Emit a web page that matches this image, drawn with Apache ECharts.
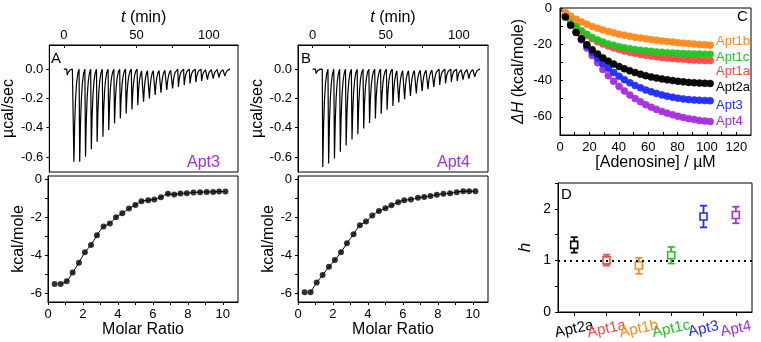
<!DOCTYPE html>
<html>
<head>
<meta charset="utf-8">
<script src="https://cdn.jsdelivr.net/npm/echarts@6/dist/echarts.min.js"></script>
<style>
  html, body { margin: 0; padding: 0; background: #fff; }
  #chart { width: 761px; height: 342px; }
</style>
</head>
<body>
<div id="chart"></div>
<script>
// ---- panels A/B, raw ITC traces ----
const injectionTimes = [2, 6.6, 10.6, 14.6, 18.6, 22.6, 26.6, 30.6, 34.6, 38.6, 42.6, 46.6, 50.6, 54.6,
  58.6, 62.6, 66.6, 70.6, 74.6, 78.6, 82.6, 86.6, 90.6, 94.6, 98.6, 102.6, 106.6, 110.6];
const apt3Peaks = [-0.04, -0.633, -0.633, -0.599, -0.548, -0.496, -0.462, -0.416, -0.371, -0.337, -0.303,
  -0.275, -0.246, -0.223, -0.2, -0.177, -0.161, -0.143, -0.132, -0.121, -0.109, -0.098, -0.089, -0.08,
  -0.071, -0.064, -0.057, -0.048];
const apt4Peaks = [-0.03, -0.668, -0.645, -0.61, -0.564, -0.522, -0.48, -0.445, -0.405, -0.368, -0.338,
  -0.305, -0.278, -0.252, -0.228, -0.205, -0.184, -0.166, -0.15, -0.137, -0.121, -0.109, -0.098, -0.087,
  -0.08, -0.071, -0.064, -0.052];
// shape of one peak: [minutes after injection, fraction of the peak depth]
const peakProfile = [[0, 0], [0.35, 1], [0.9, 0.58], [1.5, 0.32], [2.2, 0.15], [3.0, 0.05], [3.9, 0]];

// ---- panels A/B, integrated heats ----
const molarRatio = [0.38, 0.72, 1.07, 1.41, 1.77, 2.11, 2.46, 2.8, 3.18, 3.54, 3.89, 4.25, 4.63, 5.0,
  5.35, 5.73, 6.08, 6.46, 6.86, 7.22, 7.58, 7.94, 8.32, 8.7, 9.08, 9.45, 9.79, 10.15];
const apt3Heat = [-5.51, -5.51, -5.37, -4.91, -4.39, -3.84, -3.46, -2.95, -2.49, -2.33, -2.0, -1.79,
  -1.54, -1.35, -1.16, -1.1, -1.07, -0.95, -0.77, -0.81, -0.75, -0.74, -0.7, -0.68, -0.67, -0.67, -0.65, -0.65];
const apt4Heat = [-5.95, -5.95, -5.44, -5.04, -4.61, -4.25, -3.84, -3.37, -2.89, -2.42, -2.23, -1.91,
  -1.67, -1.53, -1.37, -1.21, -1.1, -1.07, -0.98, -0.93, -0.88, -0.82, -0.77, -0.74, -0.68, -0.63, -0.63, -0.63];

// ---- panel C ----
const adenosine = [3.7, 7.3, 11.0, 14.6, 18.3, 21.9, 25.6, 29.2, 32.9, 36.5, 40.2, 43.8, 47.5, 51.1,
  54.8, 58.4, 62.1, 65.7, 69.4, 73.0, 76.7, 80.3, 84.0, 87.6, 91.3, 94.9, 98.6, 102.2];
const dhApt1b = [-2.5, -4.5, -6.2, -7.7, -9.0, -10.2, -11.2, -12.1, -13.0, -13.7, -14.4, -15.0, -15.6,
  -16.1, -16.6, -17.0, -17.4, -17.8, -18.2, -18.5, -18.8, -19.1, -19.4, -19.6, -19.9, -20.1, -20.3, -20.5];
const dhApt1c = [-3.5, -7.0, -10.0, -12.5, -14.5, -16.2, -17.6, -18.8, -19.8, -20.6, -21.3, -21.9, -22.4,
  -22.9, -23.3, -23.6, -23.9, -24.2, -24.4, -24.6, -24.8, -25.0, -25.1, -25.2, -25.3, -25.4, -25.5, -25.5];
const dhApt1a = [-3.5, -7.2, -10.3, -13.0, -15.2, -17.0, -18.6, -19.9, -21.0, -22.0, -22.9, -23.7, -24.4,
  -25.0, -25.6, -26.1, -26.5, -26.9, -27.3, -27.6, -27.9, -28.1, -28.3, -28.5, -28.7, -28.8, -28.9, -29.0];
const dhApt2a = [-5.0, -9.5, -13.5, -17.0, -20.2, -23.0, -25.4, -27.5, -29.3, -30.9, -32.3, -33.5, -34.6,
  -35.6, -36.5, -37.3, -38.0, -38.6, -39.1, -39.6, -40.0, -40.4, -40.7, -41.0, -41.2, -41.4, -41.5, -41.6];
const dhApt3 = [-4.5, -9.0, -13.3, -17.3, -21.0, -24.5, -27.7, -30.6, -33.2, -35.5, -37.6, -39.5, -41.2,
  -42.7, -44.0, -45.2, -46.2, -47.1, -47.9, -48.6, -49.2, -49.7, -50.1, -50.5, -50.7, -50.9, -51.0, -51.1];
const dhApt4 = [-4.0, -8.5, -13.0, -17.5, -22.0, -26.2, -30.2, -33.9, -37.3, -40.4, -43.2, -45.7, -47.9,
  -49.9, -51.7, -53.3, -54.7, -55.9, -57.0, -58.0, -58.9, -59.7, -60.4, -61.0, -61.5, -62.0, -62.3, -62.6];

// ---- panel D ----
const hNames = ['Apt2a', 'Apt1a', 'Apt1b', 'Apt1c', 'Apt3', 'Apt4'];
const hValues = [1.3, 1.0, 0.9, 1.1, 1.85, 1.88];
const hUpper = [1.45, 1.11, 1.05, 1.26, 2.06, 2.04];
const hLower = [1.15, 0.9, 0.74, 0.94, 1.64, 1.72];

const colors = {
  Apt1b: '#ff8a1c', Apt1c: '#22c422', Apt1a: '#ff4848', Apt2a: '#000000', Apt3: '#1f2dff', Apt4: '#a52ee0'
};
const font = '"Liberation Sans", Arial, sans-serif';
const black = { color: '#000', width: 1 };

function buildTrace(peaks) {
  const pts = [[0, 0]];
  injectionTimes.forEach(function (t, i) {
    peakProfile.forEach(function (p) { pts.push([t + p[0], peaks[i] * p[1]]); });
  });
  pts.push([114, 0]);
  return pts;
}

function zip(xs, ys) {
  return xs.map(function (x, i) { return [x, ys[i]]; });
}

function valueAxis(extra) {
  return Object.assign({
    type: 'value',
    axisLine: { show: true, onZero: false, lineStyle: black },
    axisTick: { show: true, length: 3, lineStyle: black },
    axisLabel: { color: '#000', fontFamily: font, fontSize: 13 },
    splitLine: { show: false },
    nameLocation: 'middle',
    nameTextStyle: { color: '#000', fontFamily: font, fontSize: 16 }
  }, extra);
}

function tickAt(values, inside) {
  return { show: true, inside: !!inside, length: 3, lineStyle: black, customValues: values };
}

const chart = echarts.init(document.getElementById('chart'));

const gridBox = { show: true, borderColor: '#000', borderWidth: 1, containLabel: false };
const grids = [
  Object.assign({ left: 48, top: 45, width: 190, height: 127 }, gridBox),
  Object.assign({ left: 48, top: 176, width: 190, height: 126 }, gridBox),
  Object.assign({ left: 298, top: 45, width: 190, height: 127 }, gridBox),
  Object.assign({ left: 298, top: 176, width: 190, height: 126 }, gridBox),
  Object.assign({ left: 560, top: 8, width: 191, height: 127 }, gridBox),
  Object.assign({ left: 558, top: 183, width: 194, height: 129 }, gridBox)
];

function timeAxis(g) {
  return valueAxis({
    gridIndex: g, position: 'top', min: -10, max: 120,
    axisTick: tickAt([0, 25, 50, 75, 100], true),
    axisLabel: { color: '#000', fontFamily: font, fontSize: 13, margin: 3, customValues: [0, 50, 100] },
    name: '{i|t} (min)', nameGap: 19,
    nameTextStyle: { color: '#000', fontFamily: font, fontSize: 16, rich: { i: { fontStyle: 'italic', fontSize: 16, fontFamily: font } } }
  });
}
function ratioAxis(g) {
  return valueAxis({
    gridIndex: g, min: 0, max: 10.87,
    axisTick: tickAt([0, 1, 2, 3, 4, 5, 6, 7, 8, 9, 10]),
    axisLabel: { color: '#000', fontFamily: font, fontSize: 13, margin: 6, customValues: [0, 2, 4, 6, 8, 10] },
    name: 'Molar Ratio', nameGap: 20
  });
}
function powerAxis(g) {
  return valueAxis({
    gridIndex: g, min: -0.703, max: 0.165,
    axisTick: tickAt([0, -0.2, -0.4, -0.6]),
    axisLabel: {
      color: '#000', fontFamily: font, fontSize: 13, margin: 6, customValues: [0, -0.2, -0.4, -0.6],
      formatter: function (v) { return v.toFixed(1); }
    },
    name: 'µcal/sec', nameGap: 29
  });
}
function heatAxis(g) {
  return valueAxis({
    gridIndex: g, min: -6.46, max: 0.17,
    axisTick: tickAt([0, -1, -2, -3, -4, -5, -6]),
    axisLabel: { color: '#000', fontFamily: font, fontSize: 13, margin: 6, customValues: [0, -2, -4, -6] },
    name: 'kcal/mole', nameGap: 20
  });
}

const xAxes = [
  timeAxis(0), ratioAxis(1), timeAxis(2), ratioAxis(3),
  valueAxis({
    gridIndex: 4, min: 0, max: 130,
    axisTick: tickAt([0, 10, 20, 30, 40, 50, 60, 70, 80, 90, 100, 110, 120], true),
    axisLabel: { color: '#000', fontFamily: font, fontSize: 13, margin: 6, customValues: [0, 20, 40, 60, 80, 100, 120] },
    name: '[Adenosine] / µM', nameGap: 20
  }),
  {
    gridIndex: 5, type: 'category', data: hNames, boundaryGap: true,
    axisLine: { show: true, lineStyle: black },
    axisTick: { show: true, alignWithLabel: true, length: 4, lineStyle: black },
    axisLabel: {
      fontFamily: font, fontSize: 15, rotate: 12, margin: 17, interval: 0, align: 'center',
      color: function (v) { return colors[v]; }
    },
    splitLine: { show: false }
  }
];

const yAxes = [
  powerAxis(0), heatAxis(1), powerAxis(2), heatAxis(3),
  valueAxis({
    gridIndex: 4, min: -70, max: 0,
    axisTick: tickAt([0, -10, -20, -30, -40, -50, -60, -70], true),
    axisLabel: { color: '#000', fontFamily: font, fontSize: 13, margin: 8, customValues: [0, -20, -40, -60] },
    name: '{i|ΔH} (kcal/mole)', nameGap: 33,
    nameTextStyle: { color: '#000', fontFamily: font, fontSize: 16, rich: { i: { fontStyle: 'italic', fontSize: 16, fontFamily: font } } }
  }),
  valueAxis({
    gridIndex: 5, min: 0, max: 2.5,
    axisTick: tickAt([0, 0.5, 1, 1.5, 2, 2.5]),
    axisLabel: { color: '#000', fontFamily: font, fontSize: 14, margin: 7, customValues: [0, 1, 2] },
    name: 'h', nameGap: 24,
    nameTextStyle: { color: '#000', fontFamily: font, fontSize: 17, fontStyle: 'italic' }
  })
];

function traceSeries(g, peaks) {
  return {
    type: 'line', xAxisIndex: g, yAxisIndex: g, data: buildTrace(peaks),
    showSymbol: false, silent: true, lineStyle: { color: '#000', width: 1.2 }
  };
}
function heatSeries(g, heat) {
  return [
    {
      type: 'line', xAxisIndex: g, yAxisIndex: g, data: zip(molarRatio, heat).slice(1),
      showSymbol: false, smooth: 0.3, silent: true, lineStyle: { color: '#000', width: 1 }
    },
    {
      type: 'scatter', xAxisIndex: g, yAxisIndex: g, data: zip(molarRatio, heat),
      symbolSize: 6, itemStyle: { color: '#000' }
    }
  ];
}
function dhSeries(name, values) {
  const data = [{ value: [0, 0], symbolSize: 0 }].concat(zip(adenosine, values));
  return {
    type: 'line', name: name, xAxisIndex: 4, yAxisIndex: 4, data: data,
    symbol: 'circle', symbolSize: 7, showAllSymbol: true,
    lineStyle: { color: colors[name], width: 1 },
    itemStyle: { color: colors[name], borderColor: colors[name], borderWidth: 0.6, opacity: 0.95 }
  };
}

const hData = hNames.map(function (n, i) { return [i, hValues[i], hUpper[i], hLower[i]]; });

const hillSeries = {
  type: 'custom', xAxisIndex: 5, yAxisIndex: 5, data: hData,
  renderItem: function (params, api) {
    const c = api.coord([api.value(0), api.value(1)]);
    const hi = api.coord([api.value(0), api.value(2)]);
    const lo = api.coord([api.value(0), api.value(3)]);
    const color = colors[hNames[params.dataIndex]];
    const st = { stroke: color, lineWidth: 1.8 };
    return {
      type: 'group',
      children: [
        { type: 'line', shape: { x1: c[0], y1: hi[1], x2: c[0], y2: lo[1] }, style: st },
        { type: 'line', shape: { x1: c[0] - 3.5, y1: hi[1], x2: c[0] + 3.5, y2: hi[1] }, style: st },
        { type: 'line', shape: { x1: c[0] - 3.5, y1: lo[1], x2: c[0] + 3.5, y2: lo[1] }, style: st },
        { type: 'rect', shape: { x: c[0] - 3.5, y: c[1] - 3.5, width: 7, height: 7 },
          style: { fill: '#fff', stroke: color, lineWidth: 1.6 } }
      ]
    };
  },
  markLine: {
    silent: true, symbol: 'none', label: { show: false },
    lineStyle: { color: '#000', width: 2, type: [2, 4] },
    data: [{ yAxis: 1 }]
  }
};

function label(text, left, top, size, color, extra) {
  return Object.assign({
    type: 'text', left: left, top: top,
    style: { text: text, fill: color || '#000', font: size + 'px ' + font }
  }, extra);
}

const graphics = [
  label('A', 51, 51, 15),
  label('B', 301, 51, 15),
  label('C', 737, 9, 15),
  label('D', 561, 187, 15),
  label('Apt3', 187, 155, 16, colors.Apt4),
  label('Apt4', 437, 155, 16, colors.Apt4),
  label('Apt1b', 716, 35, 13, colors.Apt1b),
  label('Apt1c', 716, 51, 13, colors.Apt1c),
  label('Apt1a', 716, 65, 13, colors.Apt1a),
  label('Apt2a', 716, 81, 13, colors.Apt2a),
  label('Apt3', 716, 99, 13, colors.Apt3),
  label('Apt4', 716, 115, 13, colors.Apt4)
];

chart.setOption({
  animation: false,
  textStyle: { fontFamily: font },
  grid: grids,
  xAxis: xAxes,
  yAxis: yAxes,
  graphic: graphics,
  series: [
    traceSeries(0, apt3Peaks),
    traceSeries(2, apt4Peaks)
  ].concat(heatSeries(1, apt3Heat), heatSeries(3, apt4Heat), [
    dhSeries('Apt4', dhApt4),
    dhSeries('Apt3', dhApt3),
    dhSeries('Apt1a', dhApt1a),
    dhSeries('Apt1c', dhApt1c),
    dhSeries('Apt1b', dhApt1b),
    dhSeries('Apt2a', dhApt2a),
    hillSeries
  ])
});

window.addEventListener('resize', function () {
  chart.resize();
});
</script>
</body>
</html>
